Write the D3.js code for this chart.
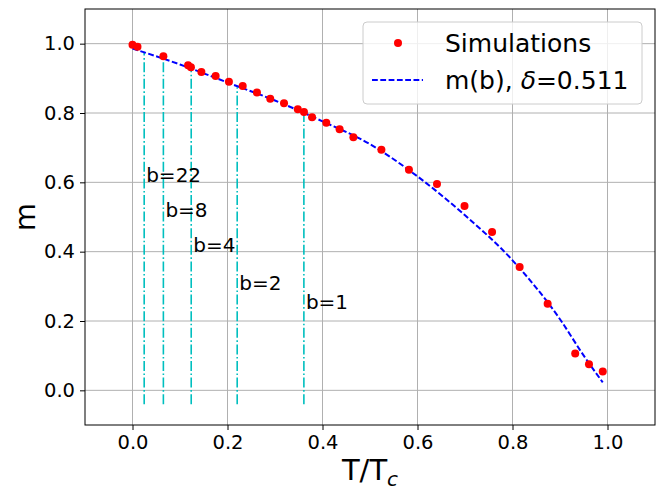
<!DOCTYPE html>
<html>
<head>
<meta charset="utf-8">
<script src="https://cdn.jsdelivr.net/npm/d3@7"></script>
<style>
  body { margin: 0; background: #fff; }
  text { font-family: "DejaVu Sans", sans-serif; }
</style>
</head>
<body>
<svg id="canvas" width="664" height="496"></svg>
<script>
// simulation points (T/Tc, m)
const simT = [0.0, 0.0105, 0.065, 0.117, 0.123, 0.145, 0.175, 0.203, 0.232, 0.262,
              0.29, 0.319, 0.348, 0.361, 0.378, 0.408, 0.436, 0.465, 0.524, 0.582,
              0.641, 0.699, 0.757, 0.815, 0.874, 0.932, 0.961, 0.990];
const simM = [0.997, 0.991, 0.964, 0.938, 0.932, 0.918, 0.907, 0.89, 0.878, 0.859,
              0.841, 0.828, 0.811, 0.803, 0.788, 0.772, 0.753, 0.730, 0.694, 0.636,
              0.595, 0.532, 0.457, 0.356, 0.250, 0.106, 0.075, 0.054];

// fitted curve m(b)
const fitT = [0.0, 0.1, 0.2, 0.3, 0.4, 0.5, 0.6, 0.7, 0.8, 0.9, 0.95, 0.99];
const fitM = [0.986, 0.94, 0.888, 0.836, 0.776, 0.71, 0.617, 0.505, 0.375, 0.205, 0.10, 0.023];

// vertical markers for block sizes
const bLabels = ["b=22", "b=8", "b=4", "b=2", "b=1"];
const bT = [0.0246, 0.065, 0.1236, 0.2204, 0.3608];
const bTop = [0.977, 0.958, 0.929, 0.874, 0.794];
const bTextM = [0.62, 0.52, 0.42, 0.31, 0.255];

const xTicks = [0.0, 0.2, 0.4, 0.6, 0.8, 1.0];
const yTicks = [0.0, 0.2, 0.4, 0.6, 0.8, 1.0];

const svg = d3.select("#canvas");
const width = 664;
const height = 496;
const margin = { top: 9, right: 9, bottom: 71, left: 85 };

const x = d3.scaleLinear().domain([-0.1, 1.1]).range([margin.left, width - margin.right]);
const y = d3.scaleLinear().domain([-0.1, 1.1]).range([height - margin.bottom, margin.top]);

// grid
const grid = svg.append("g")
    .attr("stroke", "#b0b0b0")
    .attr("stroke-width", 1);

xTicks.forEach(t => {
    grid.append("line")
        .attr("x1", x(t)).attr("x2", x(t))
        .attr("y1", margin.top).attr("y2", height - margin.bottom);
});
yTicks.forEach(t => {
    grid.append("line")
        .attr("x1", margin.left).attr("x2", width - margin.right)
        .attr("y1", y(t)).attr("y2", y(t));
});

// axes
const xAxis = svg.append("g")
    .attr("transform", `translate(0,${height - margin.bottom})`)
    .call(d3.axisBottom(x).tickValues(xTicks).tickFormat(d3.format(".1f")).tickSize(5).tickPadding(5));
const yAxis = svg.append("g")
    .attr("transform", `translate(${margin.left},0)`)
    .call(d3.axisLeft(y).tickValues(yTicks).tickFormat(d3.format(".1f")).tickSize(5).tickPadding(5));

[xAxis, yAxis].forEach(g => {
    g.select(".domain").remove();
    g.selectAll("text")
        .attr("font-family", "DejaVu Sans")
        .attr("font-size", 19.5)
        .attr("fill", "#000");
    g.selectAll("line").attr("stroke", "#000").attr("stroke-width", 1);
});

// vertical dash-dot lines
const vl = svg.append("g")
    .attr("stroke", "#00bfbf")
    .attr("stroke-width", 1.6)
    .attr("stroke-dasharray", "10,2.5,1.6,2.5");

bT.forEach((t, i) => {
    vl.append("line")
        .attr("x1", x(t)).attr("x2", x(t))
        .attr("y1", y(-0.04)).attr("y2", y(bTop[i]));
});

bLabels.forEach((lab, i) => {
    svg.append("text")
        .attr("x", x(bT[i]) + 2)
        .attr("y", y(bTextM[i]))
        .attr("dy", "0.35em")
        .attr("font-size", 20)
        .text(lab);
});

// fitted curve
const line = d3.line()
    .x(d => x(d[0]))
    .y(d => y(d[1]))
    .curve(d3.curveMonotoneX);

svg.append("path")
    .datum(d3.zip(fitT, fitM))
    .attr("d", line)
    .attr("fill", "none")
    .attr("stroke", "#0000ff")
    .attr("stroke-width", 2)
    .attr("stroke-dasharray", "5.8,2.5");

// simulation points
svg.append("g")
    .selectAll("circle")
    .data(d3.zip(simT, simM))
    .join("circle")
    .attr("cx", d => x(d[0]))
    .attr("cy", d => y(d[1]))
    .attr("r", 4)
    .attr("fill", "#ff0000");

// frame
svg.append("rect")
    .attr("x", margin.left)
    .attr("y", margin.top)
    .attr("width", width - margin.left - margin.right)
    .attr("height", height - margin.top - margin.bottom)
    .attr("fill", "none")
    .attr("stroke", "#000")
    .attr("stroke-width", 1);

// axis labels
const xl = svg.append("text")
    .attr("x", (margin.left + width - margin.right) / 2)
    .attr("y", 480)
    .attr("text-anchor", "middle")
    .attr("font-size", 29);
xl.append("tspan").text("T/T");
xl.append("tspan").attr("font-size", 20).attr("font-style", "italic").attr("dy", 6).text("c");

svg.append("text")
    .attr("transform", `translate(35,${(margin.top + height - margin.bottom) / 2}) rotate(-90)`)
    .attr("text-anchor", "middle")
    .attr("font-size", 29)
    .text("m");

// legend
const lg = svg.append("g");
lg.append("rect")
    .attr("x", 363).attr("y", 22)
    .attr("width", 279).attr("height", 82)
    .attr("rx", 4)
    .attr("fill", "#fff").attr("fill-opacity", 0.8)
    .attr("stroke", "#cccccc").attr("stroke-width", 1);
lg.append("circle")
    .attr("cx", 398).attr("cy", 43)
    .attr("r", 4).attr("fill", "#ff0000");
lg.append("line")
    .attr("x1", 372).attr("x2", 423)
    .attr("y1", 80).attr("y2", 80)
    .attr("stroke", "#0000ff").attr("stroke-width", 2)
    .attr("stroke-dasharray", "5.8,2.5");
lg.append("text")
    .attr("x", 445).attr("y", 43).attr("dy", "0.35em")
    .attr("font-size", 25).text("Simulations");
const l2 = lg.append("text")
    .attr("x", 445).attr("y", 80).attr("dy", "0.35em")
    .attr("font-size", 25);
l2.append("tspan").text("m(b), ");
l2.append("tspan").attr("font-style", "italic").text("δ");
l2.append("tspan").text("=0.511");
</script>
</body>
</html>
